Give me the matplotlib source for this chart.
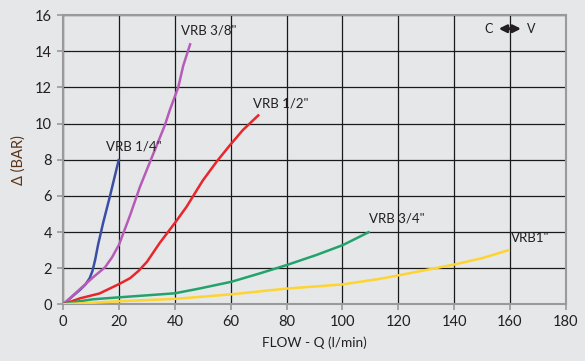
import matplotlib
matplotlib.use("Agg")
import matplotlib.pyplot as plt

# Data
q_14 = [0, 3, 6, 8, 9.5, 10.5, 11.5, 12.5, 14.3, 16.7, 18.5, 20]
p_14 = [0, 0.4, 0.8, 1.1, 1.45, 1.85, 2.5, 3.3, 4.5, 5.95, 7.1, 8.05]

q_38 = [0, 5, 10.75, 15, 17.5, 20, 23.9, 27.5, 32.2, 36.4, 38.2, 41.2, 43, 45.6]
p_38 = [0, 0.7, 1.5, 2.05, 2.6, 3.3, 4.9, 6.5, 8.3, 9.9, 10.75, 12.0, 13.2, 14.45]

q_12 = [0, 6, 13, 20, 24, 27, 30, 34.6, 40, 44.2, 50, 55, 59.7, 64.4, 70.2]
p_12 = [0, 0.33, 0.6, 1.12, 1.45, 1.85, 2.35, 3.4, 4.5, 5.4, 6.85, 7.9, 8.8, 9.65, 10.5]

q_34 = [0, 5, 10.75, 20.3, 40, 49, 60.3, 70.4, 80, 90.7, 100.2, 109.8]
p_34 = [0, 0.15, 0.28, 0.39, 0.61, 0.88, 1.25, 1.71, 2.17, 2.73, 3.28, 4.02]

q_1 = [0, 10.75, 20, 40, 60, 80, 100, 113, 120, 140, 150, 160]
p_1 = [0, 0.09, 0.17, 0.3, 0.55, 0.87, 1.1, 1.4, 1.6, 2.2, 2.55, 3.02]

labels = ['VRB 1/4"', 'VRB 3/8"', 'VRB 1/2"', 'VRB 3/4"', 'VRB1"']
label_pos = [(15.5, 8.4), (42.3, 14.8), (68.0, 10.8), (109.5, 4.4), (160.5, 3.35)]
colors = ['#3b4ea6', '#b65cb8', '#e8262b', '#23a36b', '#fdd431']

xticks = list(range(0, 181, 20))
yticks = list(range(0, 17, 2))

bg = '#e6e7e9'
plt.rcParams['font.family'] = ['Lato', 'DejaVu Sans']

fig = plt.figure(figsize=(5.85, 3.61), dpi=100, facecolor=bg)
ax = fig.add_axes([0.108, 0.157, 0.859, 0.801], facecolor=bg)

series = [(q_14, p_14), (q_38, p_38), (q_12, p_12), (q_34, p_34), (q_1, p_1)]
for (q, p), c in zip(series, colors):
    ax.plot(q, p, color=c, lw=1.8, solid_capstyle='butt', solid_joinstyle='round', zorder=3)

for lab, (x, y) in zip(labels, label_pos):
    ax.text(x, y, lab, fontsize=9.5, color='#231f20', ha='left', va='bottom', zorder=4)

ax.set_xlim(0, 180)
ax.set_ylim(0, 16)
ax.set_xticks(xticks)
ax.set_yticks(yticks)
ax.grid(True, color='#1a1a1a', lw=0.9, zorder=1)
ax.set_axisbelow(True)
for s in ax.spines.values():
    s.set_color('#9a9a9a')
    s.set_linewidth(1.5)
ax.tick_params(axis='both', direction='out', length=4, color='#9a9a9a', width=1.2,
               labelsize=10.5, labelcolor='#231f20', pad=4)

ax.set_xlabel('FLOW - Q (l/min)', fontsize=9.8, color='#231f20', labelpad=5)
ax.set_ylabel('Δ (BAR)', fontsize=10.5, color='#5a3418', labelpad=7)

ax.text(154, 15.25, 'C', fontsize=9, color='#231f20', ha='right', va='center')
ax.annotate('', xy=(165.0, 15.25), xytext=(155.0, 15.25),
            arrowprops=dict(arrowstyle='<|-|>', color='#231f20', lw=2, mutation_scale=11))
ax.text(166, 15.25, 'V', fontsize=9, color='#231f20', ha='left', va='center')

fig.savefig('out.png', dpi=100, facecolor=bg)
